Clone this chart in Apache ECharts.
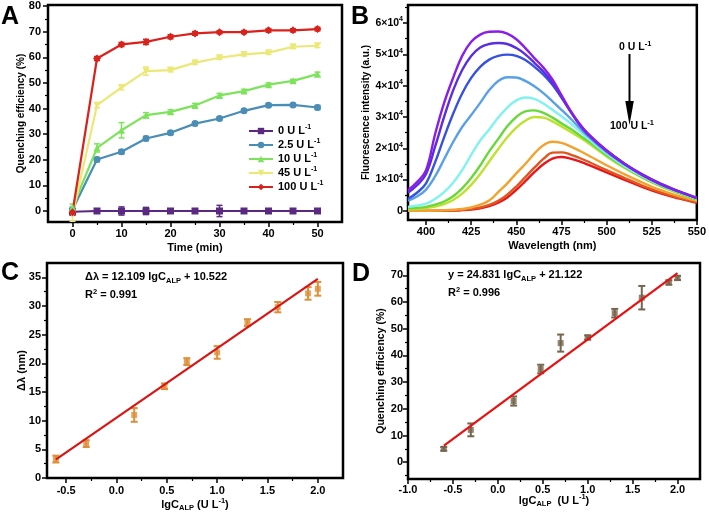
<!DOCTYPE html>
<html><head><meta charset="utf-8">
<script src="https://cdn.jsdelivr.net/npm/echarts@6/dist/echarts.min.js"></script>
<style>html,body{margin:0;padding:0;background:#fff}#c{width:709px;height:513px}</style>
</head><body><div id="c"></div>
<script>
// ---------- Panel A data ----------
const timeMin = [0,5,10,15,20,25,30,35,40,45,50];
const qe0    = [-0.3,0,0,0,0,0,0,0,0,0,0];
const qe0Err = [1.0,0.3,1.6,1.4,0.6,0.3,2.2,0.4,0.3,0.3,0.8];
const qe25    = [0.5,20.1,23.1,28.3,30.5,34.1,36.1,39.1,41.3,41.4,40.4];
const qe25Err = [1.0,0.8,0.8,0.8,0.7,0.7,0.6,0.6,0.6,0.6,0.8];
const qe10    = [1.5,24.6,31.5,37.4,38.7,41.2,45.1,46.8,49.3,50.8,53.4];
const qe10Err = [1.2,1.6,3.0,1.0,0.8,0.8,0.8,0.7,0.7,0.6,0.8];
const qe45    = [-1.5,41.3,48.2,54.6,55.0,57.9,59.8,61.1,61.8,64.1,64.5];
const qe45Err = [2.5,1.0,0.9,1.6,0.7,0.6,0.6,0.6,0.6,0.7,0.7];
const qe100    = [-0.5,59.5,65.0,66.0,68.0,69.3,69.8,69.8,70.5,70.5,71.0];
const qe100Err = [1.2,0.8,0.8,1.0,0.8,0.7,0.6,0.6,0.7,0.6,0.7];
const seriesNamesA = ['0','2.5','10','45','100'];

// ---------- Panel B data ----------
const wavelength = [390,395,400,405,410,415,420,425,430,435,440,445,450,455,460,465,470,475,480,485,490,500,510,520,530,540,550];
const fl1 = [6600,9200,13000,24500,34500,42500,49500,54000,56300,57200,57300,56600,54800,52000,48800,45800,42000,37000,32000,27800,24500,19300,15000,11500,8600,6200,4100];
const fl2 = [5800,8200,11800,20500,30000,38500,45000,49500,52200,53300,53600,53300,52000,50000,47300,44500,41000,36500,31800,27600,24300,19200,15000,11400,8500,6200,4100];
const fl3 = [3900,5800,8800,15500,23500,31000,37500,42500,46000,48300,49500,49900,49500,48200,46000,43500,40300,36200,31800,27600,24300,19300,15100,11600,8700,6300,4200];
const fl4 = [3300,4600,6800,11000,16500,22000,26800,30600,34500,38600,41500,42700,42600,41500,39800,37600,35000,32300,29500,26500,23700,18800,14800,11300,8500,6200,4100];
const fl5 = [1300,1700,2300,3800,6000,9000,13000,17900,22500,26000,29800,33000,35300,36200,35800,34300,32300,30200,28000,25500,23000,18300,14300,11000,8200,6000,3900];
const fl6 = [800,1000,1300,2000,3000,4700,7200,10500,14500,19000,23000,27000,30000,31800,32100,31300,29800,28000,26200,24200,22200,17800,14000,10700,8000,5800,3700];
const fl7 = [500,700,950,1400,2200,3500,5500,8300,11800,15800,19800,23500,26600,28800,30000,29800,28600,27000,25300,23500,21600,17400,13700,10500,7800,5600,3500];
const fl8 = [0,0,50,100,200,350,600,1100,2000,3300,6000,8800,12000,15000,18300,21000,22100,21700,20600,19200,17700,14600,11700,9000,6600,4700,3200];
const fl9 = [0,0,0,50,100,200,350,600,1100,1900,3200,5200,7800,10800,13800,16600,18600,18700,18000,16900,15700,13000,10500,8000,5900,4200,2800];
const fl10 = [0,0,0,0,50,100,250,450,850,1500,2600,4300,6700,9500,12400,14900,16700,17200,16700,15800,14700,12300,9900,7600,5600,4000,2600];
const spectraB = [fl1,fl2,fl3,fl4,fl5,fl6,fl7,fl8,fl9,fl10];

// ---------- Panel C / D data ----------
const lgC = [-0.602,-0.301,0.176,0.477,0.699,1.0,1.301,1.602,1.903,2.0];
const deltaLambda    = [3.3,6.0,11.0,16.0,20.3,21.9,27.1,29.8,32.2,33.0];
const deltaLambdaErr = [0.6,0.6,1.2,0.5,0.6,1.1,0.6,0.9,1.1,1.2];
const qeLinear    = [5.0,12.1,22.9,34.9,44.6,46.7,55.8,61.6,67.3,69.0];
const qeLinearErr = [0.7,2.4,1.7,1.6,3.2,0.8,1.6,4.4,0.8,0.8];
const fitX = [-0.6, 2.0];
const fitDeltaLambda = [3.26, 34.74];
const fitQE = [6.22, 70.78];

// ---------- Tick labels ----------
const ticksAx = [0,10,20,30,40,50], minorAx = [5,15,25,35,45];
const ticksAy = [0,10,20,30,40,50,60,70,80], minorAy = [5,15,25,35,45,55,65,75];
const ticksBx = [400,425,450,475,500,525,550], minorBx = [412.5,437.5,462.5,487.5,512.5,537.5];
const ticksBy = [0,10000,20000,30000,40000,50000,60000], minorBy = [5000,15000,25000,35000,45000,55000,65000];
const ticksCx = [-0.5,0,0.5,1.0,1.5,2.0], minorCx = [-0.25,0.25,0.75,1.25,1.75];
const ticksCy = [0,5,10,15,20,25,30,35], minorCy = [2.5,7.5,12.5,17.5,22.5,27.5,32.5];
const ticksDx = [-1.0,-0.5,0,0.5,1.0,1.5,2.0], minorDx = [-0.75,-0.25,0.25,0.75,1.25,1.75];
const ticksDy = [0,10,20,30,40,50,60,70], minorDy = [-5,5,15,25,35,45,55,65];

const colorsA = ['#5a2a82','#4a8db5','#7ee35c','#ece878','#d9221c'];
const symbolsA = ['rect','circle','triangle','path://M0,0L10,0L5,9z','diamond'];
const colorsB = ['#8a1ee6','#5a2ee0','#3552e0','#5aa0e6','#82f2f0','#6ad83c','#bce22e','#f2a22e','#e0561e','#e8161a'];

const FONT = '"Liberation Sans", Arial, sans-serif';
const SUBSUP = {
  sub:{fontSize:7.5,fontWeight:'bold',fontFamily:FONT,color:'#000',verticalAlign:'bottom',lineHeight:15},
  sup:{fontSize:7.5,fontWeight:'bold',fontFamily:FONT,color:'#000',verticalAlign:'top',lineHeight:15}
};
const NAMESTYLE = {color:'#000',fontWeight:'bold',fontSize:11,fontFamily:FONT,lineHeight:15,rich:SUBSUP};

function fmtNum(v){ return String(v); }
function fmtFix1(v){ return v.toFixed(1); }

function axisPair(dim, gridIndex, min, max, majors, minors, fmt, name, nameGap, margin, nameSize){
  const pos = dim === 'x' ? 'bottom' : 'left';
  const ns = Object.assign({}, NAMESTYLE, nameSize ? {fontSize:nameSize} : {});
  const main = {
    type:'value', gridIndex, min, max, position:pos,
    axisLine:{show:false, onZero:false},
    axisTick:{show:true,inside:false,length:5,lineStyle:{color:'#000',width:1.5},customValues:majors},
    axisLabel:{show:true,customValues:majors,formatter:fmt,margin,
      color:'#000',fontWeight:'bold',fontSize:11,fontFamily:FONT,
      rich:{n:{color:'#000',fontWeight:'bold',fontSize:10.5,fontFamily:FONT,lineHeight:14},
            s:{color:'#000',fontWeight:'bold',fontSize:7,fontFamily:FONT,verticalAlign:'top',lineHeight:14}}},
    splitLine:{show:false},
    name, nameLocation:'middle', nameGap, nameMoveOverlap:false, nameTextStyle:ns
  };
  const minor = {
    type:'value', gridIndex, min, max, position:pos,
    axisLine:{show:false, onZero:false},
    axisTick:{show:true,inside:false,length:3,lineStyle:{color:'#000',width:1.2},customValues:minors},
    axisLabel:{show:false}, splitLine:{show:false}
  };
  return [main, minor];
}

function errRender(color, capHalf, lw){
  return function(params, api){
    const x = api.value(0), y = api.value(1), e = api.value(2);
    const t = api.coord([x, y + e]), b = api.coord([x, y - e]);
    const st = {stroke:color, lineWidth:lw};
    return {type:'group', children:[
      {type:'line', shape:{x1:t[0],y1:t[1],x2:b[0],y2:b[1]}, style:st},
      {type:'line', shape:{x1:t[0]-capHalf,y1:t[1],x2:t[0]+capHalf,y2:t[1]}, style:st},
      {type:'line', shape:{x1:b[0]-capHalf,y1:b[1],x2:b[0]+capHalf,y2:b[1]}, style:st}
    ]};
  };
}

const grids = [
  {left:48, top:5, width:294, height:217},
  {left:408, top:5, width:290, height:215},
  {left:47, top:263, width:296, height:216},
  {left:408, top:263, width:292, height:216}
].map(g => Object.assign(g, {show:true, borderColor:'#000', borderWidth:2.5, backgroundColor:'transparent', containLabel:false}));

const xAxes = [].concat(
  axisPair('x',0,-5,55,ticksAx,minorAx,fmtNum,'Time (min)',18,6.5),
  axisPair('x',1,390,550,ticksBx,minorBx,fmtNum,'Wavelength (nm)',18,6),
  axisPair('x',2,-0.69,2.25,ticksCx,minorCx,fmtFix1,'lgC{sub|ALP} (U L{sup|-1})',19,7),
  axisPair('x',3,-1.0,2.25,ticksDx,minorDx,fmtFix1,'lgC{sub|ALP}  (U L{sup|-1})',14,5)
);
const yAxes = [].concat(
  axisPair('y',0,-4.3,80.4,ticksAy,minorAy,fmtNum,'Quenching efficiency (%)',19,7,10),
  axisPair('y',1,-2900,65750,ticksBy,minorBy,v => v === 0 ? '0' : '{n|' + (v/10000) + '×10}{s|4}','Fluorescence intensity (a.u.)',34,5,10),
  axisPair('y',2,0,37.5,ticksCy,minorCy,fmtNum,'Δλ (nm)',18,6),
  axisPair('y',3,-6.3,74.6,ticksDy,minorDy,fmtNum,'Quenching efficiency (%)',19,5,10.5)
);

const series = [];
// Panel A
const seriesA = [qe0,qe25,qe10,qe45,qe100];
const errA = [qe0Err,qe25Err,qe10Err,qe45Err,qe100Err];
seriesA.forEach((vals,k) => {
  series.push({
    type:'custom', xAxisIndex:0, yAxisIndex:0, z:3,
    renderItem: errRender(colorsA[k],3,1.5),
    encode:{x:0,y:1},
    data: timeMin.map((t,i) => [t, vals[i], errA[k][i]])
  });
  series.push({
    name: seriesNamesA[k], type:'line', xAxisIndex:0, yAxisIndex:0, z:4,
    data: timeMin.map((t,i) => [t, vals[i]]),
    symbol: symbolsA[k], symbolSize: k===4 ? 8 : 7, showSymbol:true,
    itemStyle:{color:colorsA[k]}, lineStyle:{color:colorsA[k], width:2.2},
    emphasis:{disabled:true}
  });
});
// Panel B
spectraB.slice().reverse().forEach((vals, r) => {
  const k = spectraB.length - 1 - r;
  series.push({
    type:'line', xAxisIndex:2, yAxisIndex:2, smooth:0.4, showSymbol:false, symbol:'none',
    data: wavelength.map((w,i) => [w, vals[i]]),
    lineStyle:{color:colorsB[k], width:2.4}, itemStyle:{color:colorsB[k]},
    emphasis:{disabled:true}
  });
});
// Panel C
series.push({
  type:'custom', xAxisIndex:4, yAxisIndex:4, z:3, renderItem: errRender('#df8f38',3.5,2),
  encode:{x:0,y:1}, data: lgC.map((x,i) => [x, deltaLambda[i], deltaLambdaErr[i]])
});
series.push({
  type:'scatter', xAxisIndex:4, yAxisIndex:4, z:4, symbol:'rect', symbolSize:6,
  itemStyle:{color:'#df8f38'}, data: lgC.map((x,i) => [x, deltaLambda[i]])
});
series.push({
  type:'line', xAxisIndex:4, yAxisIndex:4, z:5, showSymbol:false, symbol:'none',
  lineStyle:{color:'#d81414', width:2.2}, data: fitX.map((x,i) => [x, fitDeltaLambda[i]])
});
// Panel D
series.push({
  type:'custom', xAxisIndex:6, yAxisIndex:6, z:3, renderItem: errRender('#76654e',3.5,2),
  encode:{x:0,y:1}, data: lgC.map((x,i) => [x, qeLinear[i], qeLinearErr[i]])
});
series.push({
  type:'scatter', xAxisIndex:6, yAxisIndex:6, z:4, symbol:'rect', symbolSize:6,
  itemStyle:{color:'#76654e'}, data: lgC.map((x,i) => [x, qeLinear[i]])
});
series.push({
  type:'line', xAxisIndex:6, yAxisIndex:6, z:5, showSymbol:false, symbol:'none',
  lineStyle:{color:'#e81010', width:2.2}, data: fitX.map((x,i) => [x, fitQE[i]])
});

function txt(x, y, text, size, extra){
  return {type:'text', x, y, z:100, style:Object.assign({
    text, fill:'#000', fontSize:size, fontWeight:'bold', fontFamily:FONT,
    rich:SUBSUP, lineHeight:15, verticalAlign:'middle'
  }, extra||{})};
}

const graphic = [
  txt(1, 17, 'A', 25), txt(351, 17, 'B', 25), txt(1, 273, 'C', 25), txt(352, 274, 'D', 25),
  txt(85, 277, 'Δλ = 12.109 lgC{sub|ALP} + 10.522', 11),
  txt(85, 295, 'R{sup|2} = 0.991', 11),
  txt(448, 275, 'y = 24.831 lgC{sub|ALP} + 21.122', 11),
  txt(448, 293, 'R{sup|2} = 0.996', 11),
  txt(619, 47, '0 U L{sup|-1}', 10.5),
  txt(610, 126, '100 U L{sup|-1}', 10.5),
  {type:'line', z:99, shape:{x1:629.5,y1:54,x2:629.5,y2:104}, style:{stroke:'#000', lineWidth:2}},
  {type:'polygon', z:99, shape:{points:[[625.3,101],[633.8,101],[629.5,125]]}, style:{fill:'#000'}}
];

const option = {
  animation:false,
  backgroundColor:'#fff',
  grid: grids,
  xAxis: xAxes,
  yAxis: yAxes,
  legend: {
    data: seriesNamesA, orient:'vertical', left:243, top:119,
    itemWidth:24, itemHeight:8, itemGap:0,
    formatter: n => n + ' U L{s|-1}',
    textStyle:{color:'#000',fontWeight:'bold',fontSize:11,fontFamily:FONT,lineHeight:14,
      rich:{s:{color:'#000',fontWeight:'bold',fontSize:7,fontFamily:FONT,verticalAlign:'top',lineHeight:14}}},
    selectedMode:false
  },
  series,
  graphic
};
const chart = echarts.init(document.getElementById('c'), null, {renderer:'canvas'});
chart.setOption(option);
</script>
</body></html>
